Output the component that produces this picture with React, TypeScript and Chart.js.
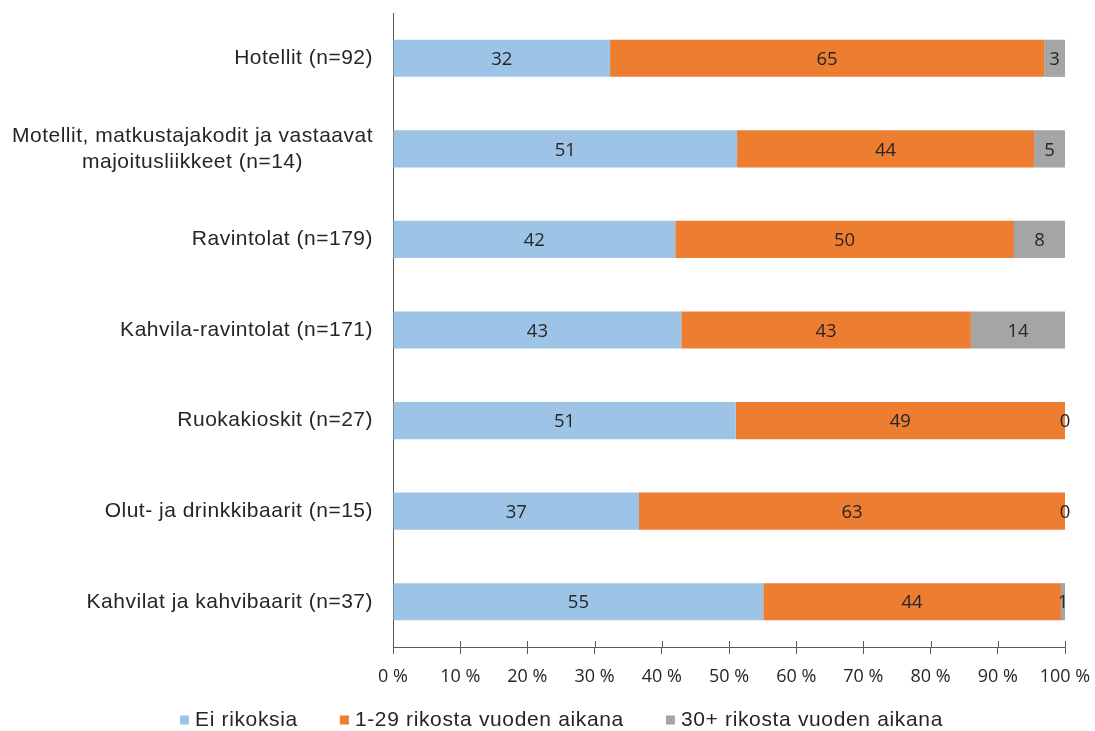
import React, { useEffect, useRef } from "react";
import { Chart, registerables } from "chart.js";

Chart.register(...registerables);

// ---- Data ----
const categories: string[][] = [
  ["Hotellit (n=92)"],
  ["Motellit, matkustajakodit ja vastaavat", "majoitusliikkeet (n=14)"],
  ["Ravintolat (n=179)"],
  ["Kahvila-ravintolat (n=171)"],
  ["Ruokakioskit (n=27)"],
  ["Olut- ja drinkkibaarit (n=15)"],
  ["Kahvilat ja kahvibaarit (n=37)"],
];
const seriesNames = ["Ei rikoksia", "1-29 rikosta vuoden aikana", "30+ rikosta vuoden aikana"];
const eiRikoksia = [32.3, 51.2, 42.0, 42.9, 51.0, 36.6, 55.1];
const rikosta1to29 = [64.6, 44.2, 50.4, 43.1, 49.0, 63.4, 44.3];
const rikosta30plus = [3.1, 4.6, 7.6, 14.0, 0, 0, 0.6];
const seriesColors = ["#9DC3E6", "#ED7D31", "#A5A5A5"];
const xTickValues = [0, 10, 20, 30, 40, 50, 60, 70, 80, 90, 100];

const AXIS_COLOR = "#595959";
const TEXT_COLOR = "#262626";
const ARIAL = "'Liberation Sans', Arial, sans-serif";
const CALIBRI = "'Open Sans', 'DejaVu Sans', sans-serif";

const categoryLabelPlugin = {
  id: "categoryLabels",
  afterDraw(chart: any) {
    const ctx = chart.ctx;
    const yScale = chart.scales.y;
    const xRight = chart.chartArea.left - 20;
    ctx.save();
    ctx.font = `21px ${ARIAL}`;
    (ctx as any).letterSpacing = "0.5px";
    ctx.fillStyle = TEXT_COLOR;
    ctx.textBaseline = "middle";
    const lineH = 26;
    (chart.data.labels as string[][]).forEach((lines, i) => {
      const yc = yScale.getPixelForTick(i);
      const widths = lines.map((l) => ctx.measureText(l).width);
      const w = Math.max(...widths);
      const y0 = yc - ((lines.length - 1) * lineH) / 2;
      lines.forEach((l, j) => {
        if (lines.length === 1) {
          ctx.textAlign = "right";
          ctx.fillText(l, xRight, y0);
        } else {
          ctx.textAlign = "center";
          ctx.fillText(l, xRight - w / 2, y0 + j * lineH);
        }
      });
    });
    ctx.restore();
  },
};

const dataLabelPlugin = {
  id: "dataLabels",
  afterDatasetsDraw(chart: any) {
    const ctx = chart.ctx;
    ctx.save();
    ctx.font = `18.5px ${CALIBRI}`;
    ctx.fillStyle = TEXT_COLOR;
    ctx.textAlign = "center";
    ctx.textBaseline = "middle";
    chart.data.datasets.forEach((ds: any, di: number) => {
      const meta = chart.getDatasetMeta(di);
      meta.data.forEach((bar: any, i: number) => {
        const v = ds.data[i];
        const cx = (bar.x + bar.base) / 2;
        ctx.fillText(String(Math.round(v)), cx, bar.y + 1.5);
      });
    });
    ctx.restore();
  },
};

const innerTickPlugin = {
  id: "innerTicks",
  afterDraw(chart: any) {
    const ctx = chart.ctx;
    const xScale = chart.scales.x;
    const bottom = chart.chartArea.bottom;
    ctx.save();
    ctx.strokeStyle = AXIS_COLOR;
    ctx.lineWidth = 1;
    xScale.ticks.forEach((t: any) => {
      const px = Math.round(xScale.getPixelForValue(t.value)) + 0.5;
      ctx.beginPath();
      ctx.moveTo(px, bottom - 6);
      ctx.lineTo(px, bottom);
      ctx.stroke();
    });
    ctx.restore();
  },
};

const legendPlugin = {
  id: "customLegend",
  afterDraw(chart: any) {
    const ctx = chart.ctx;
    ctx.save();
    ctx.font = `21px ${ARIAL}`;
    (ctx as any).letterSpacing = "0.65px";
    ctx.textBaseline = "middle";
    ctx.textAlign = "left";
    const box = 9;
    const textGap = 6;
    const itemGap = 42;
    const items = chart.data.datasets.map((ds: any) => ({
      label: ds.label,
      color: ds.backgroundColor,
      w: box + textGap + ctx.measureText(ds.label).width,
    }));
    const total = items.reduce((s: number, it: any) => s + it.w, 0) + itemGap * (items.length - 1);
    let x = chart.width / 2 + 14 - total / 2;
    const y = 720;
    items.forEach((it: any) => {
      ctx.fillStyle = it.color;
      ctx.fillRect(x, y - box / 2, box, box);
      ctx.fillStyle = TEXT_COLOR;
      ctx.fillText(it.label, x + box + textGap, y);
      x += it.w + itemGap;
    });
    ctx.restore();
  },
};

export default function App() {
  const canvasRef = useRef<HTMLCanvasElement | null>(null);

  useEffect(() => {
    if (!canvasRef.current) return;
    const seriesValues = [eiRikoksia, rikosta1to29, rikosta30plus];
    const chart = new Chart(canvasRef.current, {
      type: "bar",
      data: {
        labels: categories,
        datasets: seriesNames.map((name, i) => ({
          label: name,
          data: seriesValues[i],
          backgroundColor: seriesColors[i],
          borderWidth: 0,
          barPercentage: 0.41,
          categoryPercentage: 1.0,
        })),
      },
      options: {
        indexAxis: "y",
        animation: false,
        responsive: true,
        maintainAspectRatio: false,
        layout: { padding: { top: 13, right: 30, bottom: 0, left: 0 } },
        plugins: {
          legend: { display: false },
          tooltip: { enabled: false },
        },
        scales: {
          x: {
            stacked: true,
            min: 0,
            max: 100,
            afterBuildTicks: (scale: any) => {
              scale.ticks = xTickValues.map((v) => ({ value: v }));
            },
            ticks: {
              callback: (v: any) => `${v} %`,
              font: { family: CALIBRI, size: 18 },
              color: TEXT_COLOR,
              padding: 12,
              maxRotation: 0,
              autoSkip: false,
            },
            grid: {
              display: true,
              drawOnChartArea: false,
              drawTicks: true,
              tickLength: 7,
              color: AXIS_COLOR,
              lineWidth: 1,
            },
            border: { display: true, color: AXIS_COLOR, width: 1 },
            afterFit: (scale: any) => {
              scale.height = 84;
              scale.paddingLeft = 0;
              scale.paddingRight = 0;
            },
          },
          y: {
            stacked: true,
            ticks: { display: false },
            grid: { display: false },
            border: { display: true, color: AXIS_COLOR, width: 1 },
            afterFit: (scale: any) => {
              scale.width = 393;
              scale.paddingTop = 0;
              scale.paddingBottom = 0;
            },
          },
        },
      },
      plugins: [categoryLabelPlugin, dataLabelPlugin, innerTickPlugin, legendPlugin],
    });
    return () => chart.destroy();
  }, []);

  return (
    <div style={{ position: "fixed", left: 0, top: 0, width: 1095, height: 731, background: "#fff" }}>
      <canvas ref={canvasRef} />
    </div>
  );
}
